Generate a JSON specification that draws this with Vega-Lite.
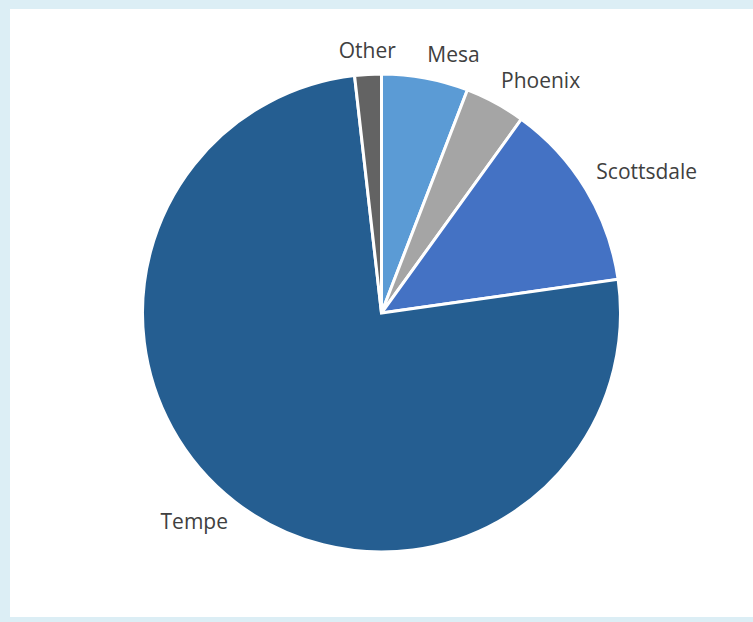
{
  "$schema": "https://vega.github.io/schema/vega-lite/v6.json",
  "autosize": {"type": "fit", "contains": "padding"},
  "width": 753,
  "height": 622,
  "padding": {"left": 10, "top": 9, "right": 0, "bottom": 5},
  "background": "#DCEEF5",
  "config": {
    "view": {"stroke": null},
    "font": "Open Sans"
  },
  "data": {
    "values": [
      {"city": "Mesa", "share": 5.85, "rank": 1},
      {"city": "Phoenix", "share": 4.1, "rank": 2},
      {"city": "Scottsdale", "share": 12.8, "rank": 3},
      {"city": "Tempe", "share": 75.45, "rank": 4},
      {"city": "Other", "share": 1.8, "rank": 5}
    ]
  },
  "layer": [
    {
      "mark": {"type": "rect", "fill": "white", "strokeWidth": 0},
      "encoding": {}
    },
    {
      "mark": {"type": "arc", "outerRadius": 239, "stroke": "white", "strokeWidth": 3},
      "encoding": {
        "theta": {"field": "share", "type": "quantitative", "stack": true},
        "order": {"field": "rank", "type": "quantitative"},
        "color": {
          "field": "city",
          "type": "nominal",
          "scale": {
            "domain": ["Mesa", "Phoenix", "Scottsdale", "Tempe", "Other"],
            "range": ["#5B9BD5", "#A5A5A5", "#4472C4", "#255E91", "#636363"]
          },
          "legend": null
        }
      }
    },
    {
      "mark": {
        "type": "text",
        "radius": 251,
        "fontSize": 21,
        "font": "Open Sans",
        "color": "#404040",
        "align": {"expr": "((datum.share_start + datum.share_end) / 2 > 97.5 || (datum.share_start + datum.share_end) / 2 < 2.5) ? 'center' : ((datum.share_start + datum.share_end) / 2 < 50 ? 'left' : 'right')"},
        "baseline": {"expr": "((datum.share_start + datum.share_end) / 2 < 25 || (datum.share_start + datum.share_end) / 2 > 75) ? 'bottom' : 'top'"}
      },
      "encoding": {
        "theta": {"field": "share", "type": "quantitative", "stack": true},
        "order": {"field": "rank", "type": "quantitative"},
        "text": {"field": "city", "type": "nominal"}
      }
    }
  ]
}
